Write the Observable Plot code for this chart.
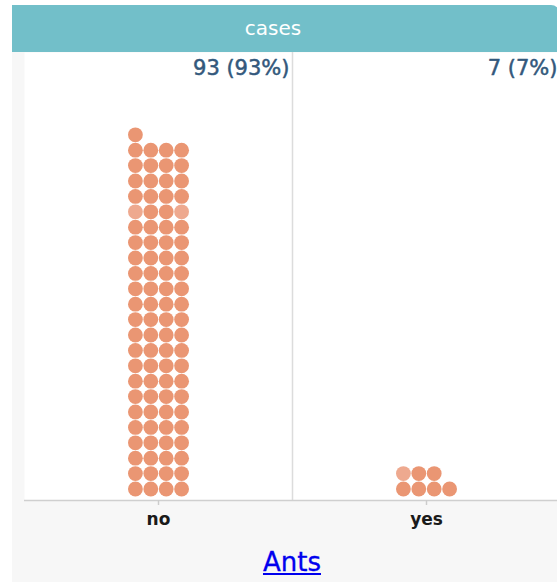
<!DOCTYPE html>
<html>
<head>
<meta charset="utf-8">
<script src="https://cdn.jsdelivr.net/npm/d3@7"></script>
<script src="https://cdn.jsdelivr.net/npm/@observablehq/plot@0.6"></script>
<style>
  html, body { margin: 0; padding: 0; background: #ffffff; overflow: hidden; width: 557px; height: 582px; }
  body { position: relative; font-family: "DejaVu Sans", sans-serif; }
  #header {
    position: absolute; left: 12px; top: 5px; width: 548px; height: 47px;
    background: #72bfc9; border-top-right-radius: 9px;
    color: #ffffff; font-size: 20px; line-height: 47px; text-align: center;
    box-sizing: border-box; padding-right: 26px;
  }
  #panel {
    position: absolute; left: 12px; top: 52px; width: 548px; height: 530px;
    background: #f7f7f7;
  }
  #panel svg { display: block; }
  #footer {
    position: absolute; left: 0; top: 495px; width: 548px; box-sizing: border-box;
    padding-left: 12px; text-align: center; font-size: 26px; line-height: 30px;
  }
  #footer a { color: #0000ee; text-decoration: underline; -webkit-text-stroke: 0.3px #0000ee; }
</style>
</head>
<body>
<div id="header"></div>
<div id="panel"><div id="chart"></div><div id="footer"><a href="#" id="xlabel"></a></div></div>
<script>
// ---- data ----
const title = "cases";
const xTitle = "Ants";
const categories = ["no", "yes"];
const counts = [93, 7];
const total = 100;
const dotsPerRow = 4;
// individually lighter-shaded dots (category, index) as seen in the picture
const lighterDots = [["no", 72], ["no", 75], ["yes", 4]];

document.getElementById("header").textContent = title;
document.getElementById("xlabel").textContent = xTitle;

// ---- build one record per dot (waffle-style stacking) ----
const colStep = 15.4 / 268;     // column spacing in band units
const rowBase = 0.747;          // first row centre above the axis, in row units
const dots = [];
categories.forEach((cat, i) => {
  for (let k = 0; k < counts[i]; k++) {
    const row = Math.floor(k / dotsPerRow), col = k % dotsPerRow;
    dots.push({
      cat,
      x: i + 0.5 + (col - (dotsPerRow - 1) / 2) * colStep,
      y: row + rowBase,
      light: lighterDots.some(([c, n]) => c === cat && n === k)
    });
  }
});
const labels = categories.map((cat, i) => ({
  x: i + 1,
  text: `${counts[i]} (${Math.round(counts[i] / total * 100)}%)`
}));

const innerH = 448;
const chart = Plot.plot({
  width: 548,
  height: innerH + 40,
  marginLeft: 12,
  marginRight: 0,
  marginTop: 0,
  marginBottom: 40,
  style: { fontFamily: "DejaVu Sans, sans-serif", fontSize: "17px", background: "transparent", overflow: "visible" },
  x: { domain: [0, categories.length], range: [12, 548] },
  y: { domain: [0, innerH / 15.4], axis: null },
  marks: [
    Plot.frame({ fill: "#ffffff", stroke: null }),
    Plot.ruleX([1], { stroke: "#dcdcdc", strokeWidth: 1.5 }),
    Plot.dot(dots, {
      x: "x", y: "y", r: 7.4,
      fill: d => d.light ? "#eea98f" : "#ea9673",
      stroke: null
    }),
    Plot.ruleY([0], { stroke: "#cfcfcf", strokeWidth: 1.5 }),
    Plot.axisX(categories.map((c, i) => i + 0.5), {
      tickFormat: (d) => categories[Math.floor(d)],
      tickSize: 5, tickPadding: 7, stroke: "#cccccc", strokeWidth: 1.5,
      fontSize: 17, fontWeight: "bold", fill: "#1a1a1a", label: null
    }),
    Plot.text(labels, {
      x: "x", text: "text", frameAnchor: "top", dy: 16, dx: -3,
      textAnchor: "end", lineAnchor: "middle",
      fontSize: 21, fill: "#33587c", stroke: "#33587c", strokeWidth: 0.5
    })
  ]
});
document.getElementById("chart").appendChild(chart);
</script>
</body>
</html>
